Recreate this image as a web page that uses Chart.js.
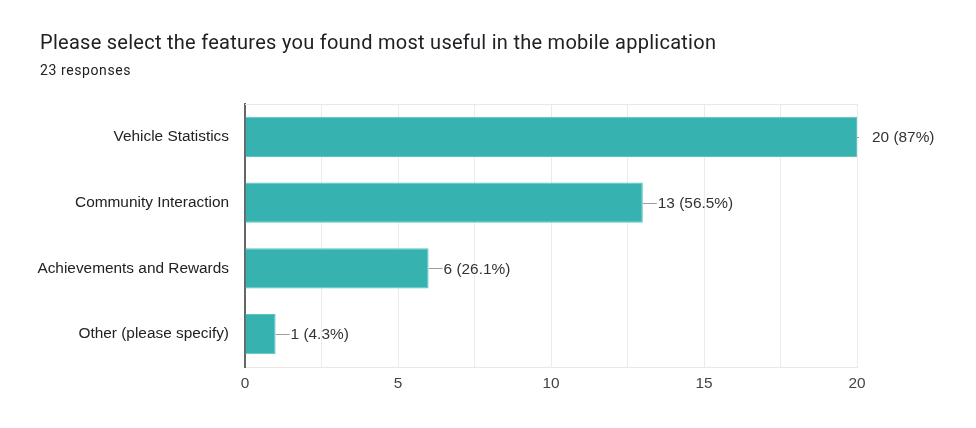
<!DOCTYPE html>
<html>
<head>
<meta charset="utf-8">
<script src="https://cdn.jsdelivr.net/npm/chart.js@4"></script>
<style>
  html, body { margin: 0; padding: 0; background: #fff; }
  #wrap { width: 976px; height: 428px; position: relative; }
</style>
</head>
<body>
<div id="wrap"><canvas id="features-chart"></canvas></div>
<script>
var categories = ['Vehicle Statistics', 'Community Interaction', 'Achievements and Rewards', 'Other (please specify)'];
var counts = [20, 13, 6, 1];
var percents = ['87%', '56.5%', '26.1%', '4.3%'];
var xTicks = [0, 5, 10, 15, 20];

var titleText = 'Please select the features you found most useful in the mobile application';
var subtitleText = '23 responses';
var chartFont = "'Liberation Sans', Arial, sans-serif";
var labelSize = 15.4;

// title, frame and value labels drawn on top of the chart
var formsDecor = {
    id: 'formsDecor',
    afterDraw: function (chart) {
        var c = chart.ctx;
        var area = chart.chartArea;
        c.save();
        c.fillStyle = '#202124';
        c.textBaseline = 'alphabetic';
        c.font = '20px Roboto';
        c.letterSpacing = '0.27px';
        c.fillText(titleText, 40, 49);
        c.font = '14px Roboto';
        c.letterSpacing = '0.6px';
        c.fillText(subtitleText, 40, 75);
        c.letterSpacing = '0px';

        // top frame line
        c.strokeStyle = '#e8e8e8';
        c.lineWidth = 1;
        c.beginPath();
        c.moveTo(area.left, area.top + 0.5);
        c.lineTo(area.right, area.top + 0.5);
        c.stroke();

        var meta = chart.getDatasetMeta(0);
        c.font = labelSize + 'px ' + chartFont;
        c.textBaseline = 'middle';
        meta.data.forEach(function (bar, i) {
            var x = bar.x;
            var y = bar.y;
            // leader line only when the bar stops short of the frame
            var lead = x < area.right - 1 ? 14 : 2;
            c.strokeStyle = '#9e9e9e';
            c.beginPath();
            c.moveTo(x, Math.round(y) + 0.5);
            c.lineTo(x + lead, Math.round(y) + 0.5);
            c.stroke();
            c.fillStyle = '#333333';
            c.fillText(counts[i] + ' (' + percents[i] + ')', x + 15, y + 1);
        });
        c.restore();
    }
};

var ctx = document.getElementById('features-chart').getContext('2d');
var myChart = new Chart(ctx, {
    type: 'bar',
    data: {
        labels: categories,
        datasets: [{
            data: counts,
            backgroundColor: '#36b3b1',
            borderColor: '#5cc3c1',
            borderWidth: 1,
            barPercentage: 0.61,
            categoryPercentage: 1
        }]
    },
    plugins: [formsDecor],
    options: {
        indexAxis: 'y',
        responsive: true,
        maintainAspectRatio: false,
        animation: false,
        layout: {
            padding: { left: 0, right: 119, top: 104, bottom: 31 }
        },
        plugins: {
            legend: { display: false },
            tooltip: { enabled: false }
        },
        scales: {
            x: {
                min: 0,
                max: 20,
                ticks: {
                    stepSize: 2.5,
                    padding: 8,
                    color: '#444444',
                    font: { family: chartFont, size: labelSize },
                    callback: function (v) {
                        return xTicks.indexOf(v) >= 0 ? String(v) : '';
                    }
                },
                grid: {
                    color: '#ebebeb',
                    drawTicks: false
                },
                border: { color: '#e8e8e8' },
                afterFit: function (scale) { scale.height = 30; }
            },
            y: {
                ticks: {
                    padding: 16,
                    color: '#222222',
                    font: { family: chartFont, size: labelSize }
                },
                grid: { display: false, drawTicks: false },
                border: { color: '#666666', width: 2 },
                afterFit: function (scale) { scale.width = 245; }
            }
        }
    }
});
</script>
</body>
</html>
